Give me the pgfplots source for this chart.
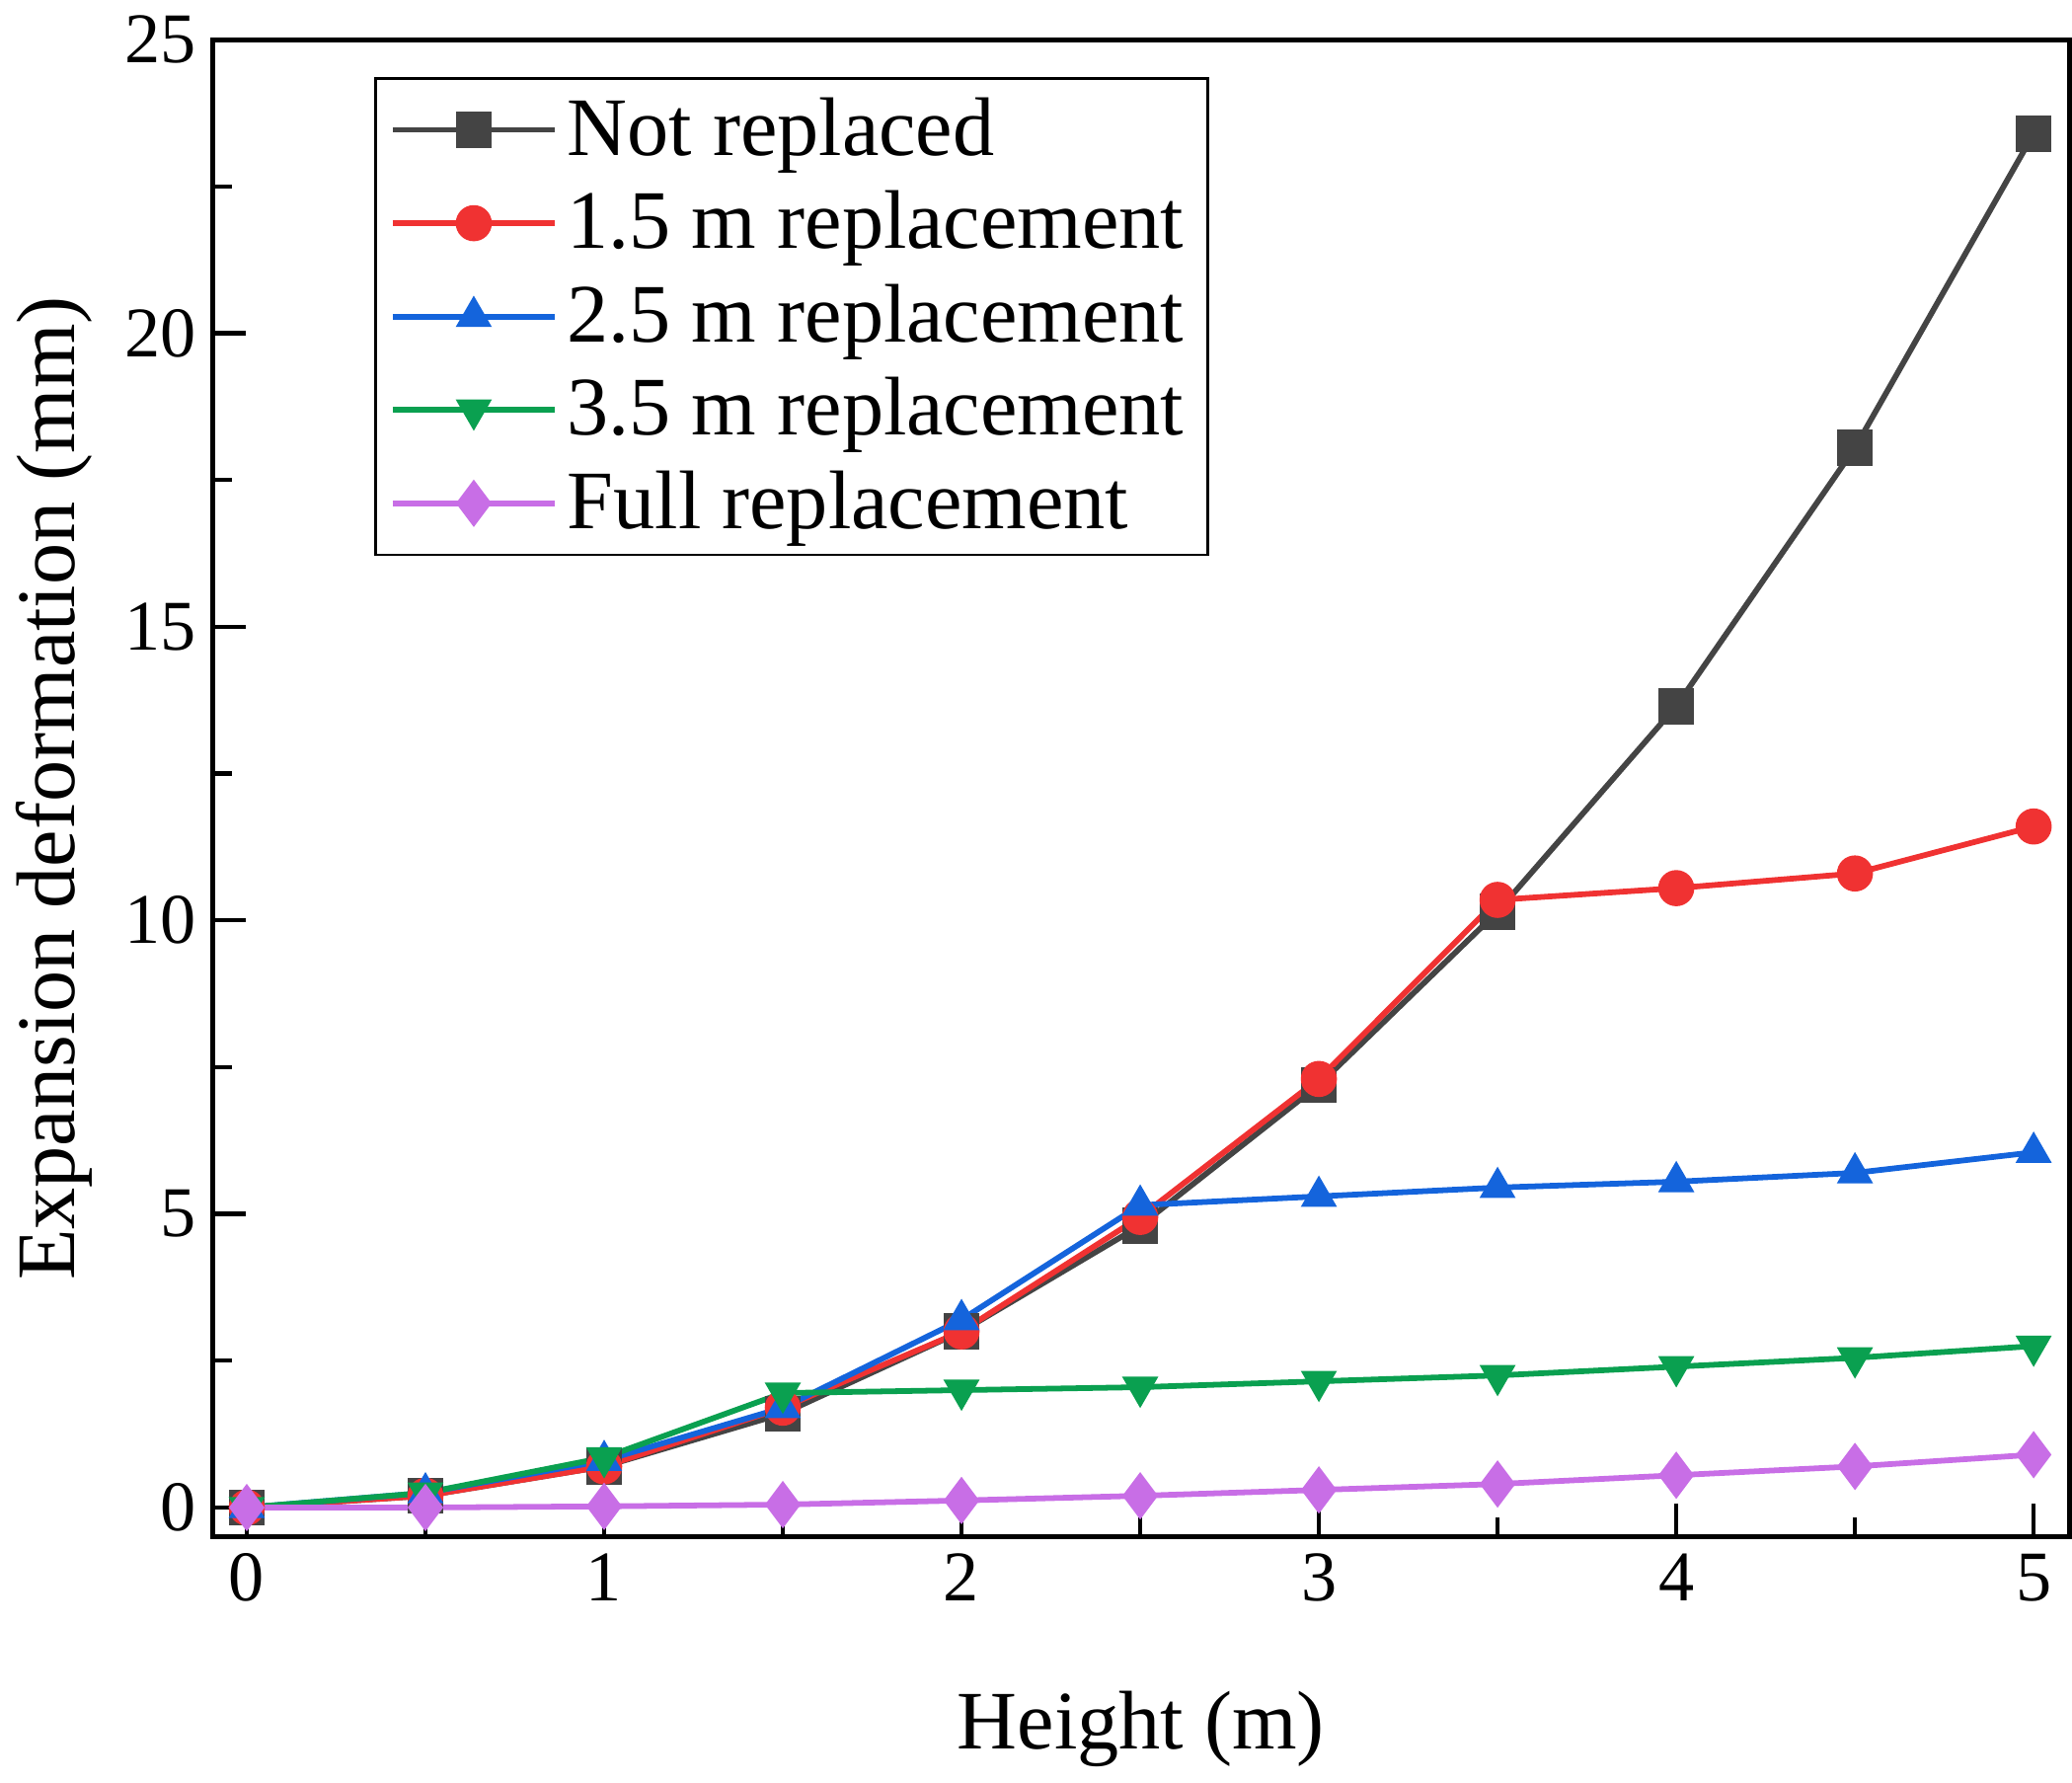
\documentclass[border=0pt]{standalone}
\usepackage{pgfplots}
\pgfplotsset{compat=1.18}
\usepackage{fontspec}
\setmainfont{Liberation Serif}
\definecolor{c1}{RGB}{68,68,68}
\definecolor{c2}{RGB}{240,50,50}
\definecolor{c3}{RGB}{20,100,220}
\definecolor{c4}{RGB}{10,160,80}
\definecolor{c5}{RGB}{200,110,230}
\begin{document}
\begin{tikzpicture}
\begin{axis}[
  scale only axis, width=13.73cm, height=11.07cm,
  xmin=-0.095, xmax=5.1, ymin=-0.5, ymax=25,
  xtick={0,1,2,3,4,5}, ytick={0,5,10,15,20,25},
  minor x tick num=1, minor y tick num=1,
  tick align=inside, xtick pos=bottom, ytick pos=left,
  major tick length=7pt, minor tick length=4pt,
  axis line style={line width=1.1pt}, tick style={line width=0.9pt,black},
  ticklabel style={font=\fontsize{15}{17}\selectfont},
  /pgf/number format/assume math mode=true,
  xlabel={Height (m)}, ylabel={Expansion deformation (mm)},
  xlabel style={yshift=-12pt},
  label style={font=\fontsize{17.5}{20}\selectfont},
  legend style={at={(0.087,0.975)}, anchor=north west, font=\fontsize{17.5}{20}\selectfont, draw=black, line width=0.5pt, row sep=2pt},
  legend image code/.code={\draw[mark repeat=2,mark phase=2] plot coordinates {(0cm,0cm)(0.6cm,0cm)(1.2cm,0cm)};},
  legend cell align=left,
  every axis plot/.append style={line width=1.2pt, mark size=3.2pt},
]
\addplot[c1, mark=square*] coordinates {(0,0)(0.5,0.2)(1,0.7)(1.5,1.6)(2,3.0)(2.5,4.8)(3,7.2)(3.5,10.15)(4,13.65)(4.5,18.05)(5,23.4)};
\addplot[c2, mark=*] coordinates {(0,0)(0.5,0.2)(1,0.7)(1.5,1.7)(2,3.0)(2.5,4.95)(3,7.3)(3.5,10.35)(4,10.55)(4.5,10.8)(5,11.6)};
\addplot[c3, mark=triangle*] coordinates {(0,0)(0.5,0.25)(1,0.8)(1.5,1.7)(2,3.2)(2.5,5.15)(3,5.3)(3.5,5.45)(4,5.55)(4.5,5.7)(5,6.05)};
\addplot[c4, mark=triangle*, mark options={rotate=180}] coordinates {(0,0)(0.5,0.25)(1,0.85)(1.5,1.95)(2,2.0)(2.5,2.05)(3,2.15)(3.5,2.25)(4,2.4)(4.5,2.55)(5,2.75)};
\addplot[c5, mark=diamond*, mark size=4pt] coordinates {(0,0)(0.5,0)(1,0.02)(1.5,0.05)(2,0.12)(2.5,0.2)(3,0.3)(3.5,0.4)(4,0.55)(4.5,0.7)(5,0.9)};
\legend{Not replaced,1.5 m replacement,2.5 m replacement,3.5 m replacement,Full replacement}
\end{axis}
\end{tikzpicture}
\end{document}
